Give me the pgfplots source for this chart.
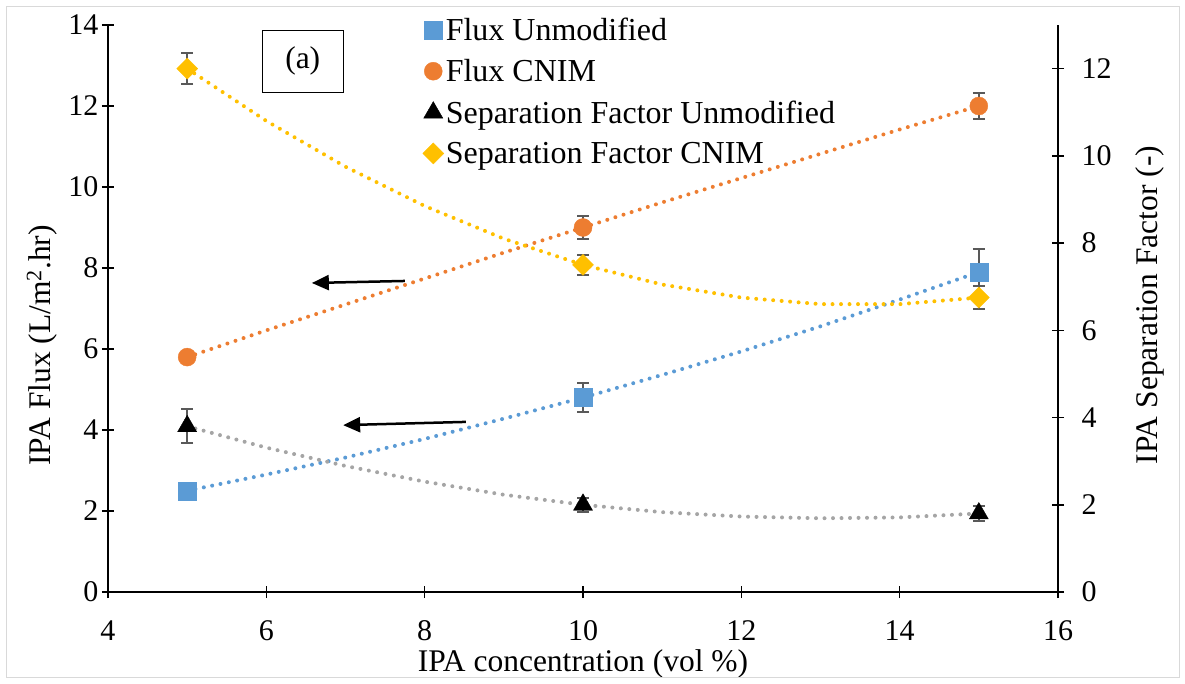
\documentclass[border=0pt]{standalone}
\usepackage{fontspec}
\setmainfont{Liberation Serif}
\newfontfamily\tnr{Liberation Serif}
\usepackage{pgfplots}
\pgfplotsset{compat=1.18}
\usetikzlibrary{arrows.meta}
\definecolor{cblue}{HTML}{5B9BD5}
\definecolor{corange}{HTML}{ED7D31}
\definecolor{cgold}{HTML}{FFC000}
\definecolor{cgray}{HTML}{A5A5A5}
\definecolor{cerr}{HTML}{595959}
\definecolor{cborder}{HTML}{D9D9D9}
\newcommand\fs{\tnr\fontsize{30}{36}\selectfont}
\newcommand\fl{\tnr\fontsize{31.5}{38}\selectfont}
\newcommand\fleg{\tnr\fontsize{32}{38}\selectfont}
\pgfplotsset{
  common/.style={
    scale only axis, width=950pt, height=567pt,
    at={(0pt,0pt)}, anchor=south west,
    xmin=4, xmax=16, xtick={4,6,...,16},
    axis line style={black, line width=1.5pt},
    major tick length=12pt,
    tick style={black, line width=1.5pt},
    tick align=center,
    ticklabel style={font=\fs},
    label style={font=\fl},
    /pgf/number format/assume math mode=true,
    clip=false,
  },
  trend/.style={line width=4pt, line cap=round, dash pattern=on 0pt off 8.5pt, no marks, forget plot},
  eb/.style={error bars/.cd, y dir=both, y explicit,
    error bar style={cerr, line width=1.8pt, solid},
    error mark=-,
    error mark options={cerr, line width=1.8pt, mark size=6pt, solid, rotate=90}},
}
\begin{document}
\begin{tikzpicture}
\begin{axis}[common,
  ymin=0, ymax=14, ytick={0,2,...,14},
  axis y line*=left, axis x line*=bottom,
  xticklabel style={yshift=-19pt},
  xlabel={IPA concentration (vol \%)},
  ylabel={IPA Flux (L/m\textsuperscript{2}.hr)},
  xlabel style={at={(axis description cs:0.5,-0.1265)}, anchor=center},
  ylabel style={at={(axis description cs:-0.0695,0.435)}, anchor=center, rotate=0},
]
% trend lines
\addplot[trend, cblue] coordinates {(5,2.5) (6,2.9) (7,3.32) (8,3.78) (9,4.28) (10,4.8) (11,5.36) (12,5.94) (13,6.56) (14,7.22) (15,7.9)};
\addplot[trend, corange] coordinates {(5,5.8) (6,6.46) (7,7.1) (8,7.74) (9,8.38) (10,9.0) (11,9.62) (12,10.22) (13,10.82) (14,11.42) (15,12.0)};
% data
\addplot[only marks, mark=square*, mark size=9pt, mark options={draw=cblue, fill=cblue}, eb]
  coordinates {(5,2.5) +- (0,0.05) (10,4.8) +- (0,0.36) (15,7.9) +- (0,0.56)};
\addplot[only marks, mark=*, mark size=9pt, mark options={draw=corange, fill=corange}, eb]
  coordinates {(5,5.8) +- (0,0.05) (10,9.0) +- (0,0.28) (15,12.0) +- (0,0.33)};
\node[draw, line width=1pt, font=\fl, minimum width=81pt, minimum height=62pt, inner sep=0pt] at (axis cs:6.46,13.11) {(a)};
\draw[-{Triangle[length=17pt,width=15pt]}, line width=2.5pt] (axis cs:7.75,7.68) -- (axis cs:6.575,7.63);
\draw[-{Triangle[length=17pt,width=15pt]}, line width=2.5pt] (axis cs:8.52,4.20) -- (axis cs:6.97,4.12);
\end{axis}
\begin{axis}[common,
  ymin=0, ymax=13, ytick={0,2,...,12},
  axis y line*=right, axis x line=none,
  yticklabel style={xshift=14pt},
  ylabel={IPA Separation Factor (-)},
  ylabel style={at={(axis description cs:1.0968,0.506)}, anchor=center, rotate=0},
  legend style={at={(axis description cs:0.328,1.020)}, anchor=north west, draw=none, fill=none, font=\fleg, row sep=13.5pt},
  legend cell align=left,
]
\addlegendimage{only marks, mark=square*, mark size=9pt, mark options={draw=cblue, fill=cblue}}
\addlegendentry{Flux Unmodified}
\addlegendimage{only marks, mark=*, mark size=9pt, mark options={draw=corange, fill=corange}}
\addlegendentry{Flux CNIM}
\addplot[trend, cgray] coordinates {(5,3.8) (6,3.31) (7,2.89) (8,2.53) (9,2.23) (10,2.0) (11,1.83) (12,1.73) (13,1.69) (14,1.71) (15,1.8)};
\addplot[trend, cgold] coordinates {(5,12.0) (6,10.8) (7,9.75) (8,8.85) (9,8.1) (10,7.5) (11,7.05) (12,6.75) (13,6.6) (14,6.6) (15,6.75)};
\addplot[only marks, mark=triangle*, mark size=11pt, mark options={draw=black, fill=black}, eb]
  coordinates {(5,3.8) +- (0,0.39) (10,2.0) +- (0,0.16) (15,1.8) +- (0,0.18)};
\addlegendentry{Separation Factor Unmodified}
\addplot[only marks, mark=diamond*, mark size=10.5pt, mark options={draw=cgold, fill=cgold, xscale=1.33}, eb]
  coordinates {(5,12.0) +- (0,0.35) (10,7.5) +- (0,0.23) (15,6.75) +- (0,0.27)};
\addlegendentry{Separation Factor CNIM}
\end{axis}
\draw[cborder, line width=1pt] (-101pt,-85pt) rectangle (1071pt,585pt);
\pgfresetboundingbox
\path (-108pt,-91pt) rectangle (1077pt,592pt);
\end{tikzpicture}
\end{document}
